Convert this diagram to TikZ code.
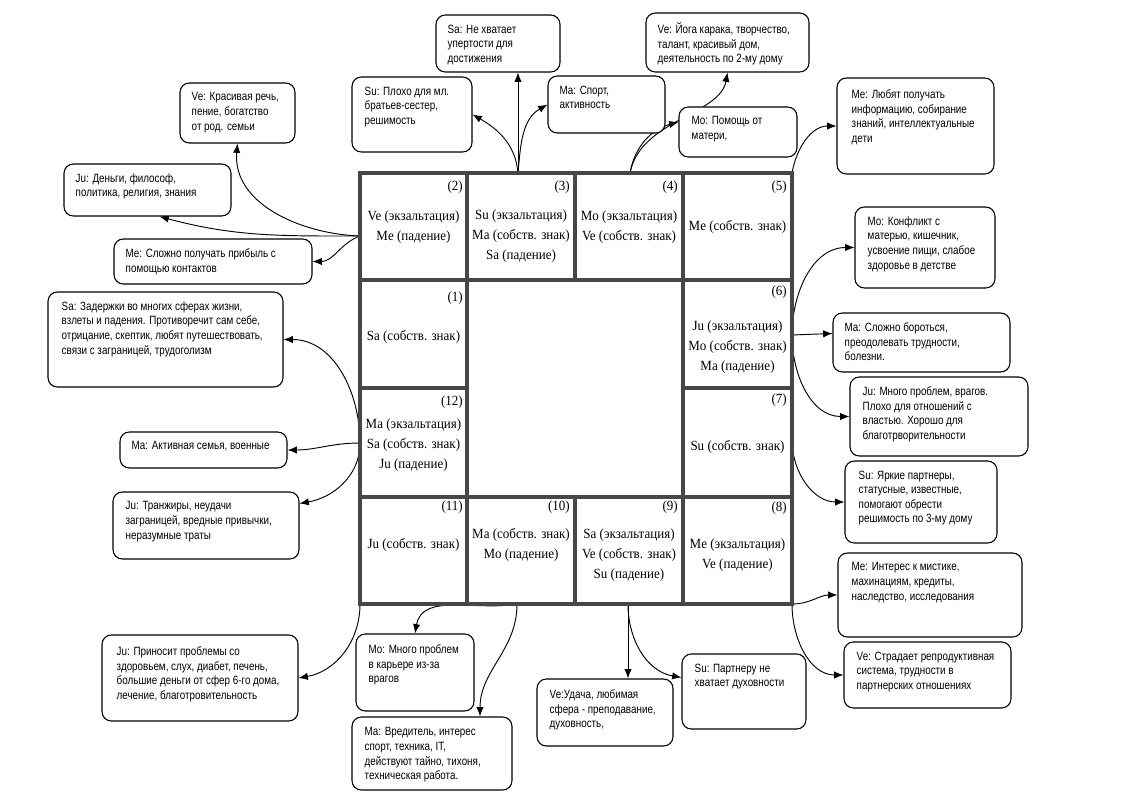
\documentclass[tikz,border=0pt]{standalone}
\usepackage{fontspec}
\usepackage{tikz}
\usetikzlibrary{arrows.meta, fit, positioning}
\newfontfamily\boxfont[FakeStretch=0.82]{Liberation Sans}
\newfontfamily\housefont[FakeStretch=0.93]{Liberation Serif}
\pgfdeclarelayer{bg}
\pgfsetlayers{bg,main}

\begin{document}
\begin{tikzpicture}[x=0.75pt, y=0.75pt, >={Latex[length=7pt,width=5.5pt]},
    chart/.style={line width=2.5pt, draw=black!72},
    house/.style={font=\housefont\fontsize{10.5}{15}\selectfont, align=center, inner sep=0pt},
    hnum/.style={font=\housefont\fontsize{10.5}{12}\selectfont, anchor=east, inner sep=0pt},
    infobox/.style={draw, line width=0.8pt, rounded corners=7pt, fill=white, inner sep=0pt},
    infotext/.style={font=\boxfont\fontsize{9}{10.9}\selectfont, align=left, anchor=north west, inner sep=0pt},
    link/.style={->, line width=0.7pt}]

    \useasboundingbox (0,0) rectangle (1127,-806);

    % Карта домов (сетка)
    \draw[chart] (360,-173) rectangle (792,-604);
    \draw[chart] (360,-280) -- (792,-280);
    \draw[chart] (360,-497) -- (792,-497);
    \draw[chart] (360,-388) -- (467,-388);
    \draw[chart] (683,-388) -- (792,-388);
    \draw[chart] (467,-173) -- (467,-604);
    \draw[chart] (683,-173) -- (683,-604);
    \draw[chart] (575,-173) -- (575,-280);
    \draw[chart] (575,-497) -- (575,-604);

    % Номера домов
    \node[hnum] (n2) at (463,-187) {(2)};
    \node[hnum] (n3) at (570,-187) {(3)};
    \node[hnum] (n4) at (678,-187) {(4)};
    \node[hnum] (n5) at (787,-187) {(5)};
    \node[hnum] (n1) at (463,-298) {(1)};
    \node[hnum] (n6) at (787,-292) {(6)};
    \node[hnum] (n12) at (463,-402) {(12)};
    \node[hnum] (n7) at (787,-400) {(7)};
    \node[hnum] (n11) at (463,-507) {(11)};
    \node[hnum] (n10) at (570,-507) {(10)};
    \node[hnum] (n9) at (678,-507) {(9)};
    \node[hnum] (n8) at (787,-508) {(8)};

    % Планеты в домах
    \node[house] (c2) at (413.5,-227) {Ve (экзальтация)\\Me (падение)};
    \node[house] (c3) at (521,-236) {Su (экзальтация)\\Ma (собств. знак)\\Sa (падение)};
    \node[house] (c4) at (629,-227) {Mo (экзальтация)\\Ve (собств. знак)};
    \node[house] (c5) at (737.5,-227) {Me (собств. знак)};
    \node[house] (c1) at (413.5,-337) {Sa (собств. знак)};
    \node[house] (c6) at (737.5,-347) {Ju (экзальтация)\\Mo (собств. знак)\\Ma (падение)};
    \node[house] (c7) at (737.5,-447) {Su (собств. знак)};
    \node[house] (c12) at (413.5,-445) {Ma (экзальтация)\\Sa (собств. знак)\\Ju (падение)};
    \node[house] (c11) at (413.5,-545) {Ju (собств. знак)};
    \node[house] (c10) at (521,-545) {Ma (собств. знак)\\Mo (падение)};
    \node[house] (c9) at (629,-555) {Sa (экзальтация)\\Ve (собств. знак)\\Su (падение)};
    \node[house] (c8) at (737.5,-555) {Me (экзальтация)\\Ve (падение)};

    % Точки выхода стрелок
    \coordinate (h2) at (360,-236);
    \coordinate (h3) at (518,-173);
    \coordinate (h4) at (630,-173);
    \coordinate (h5) at (792,-173);
    \coordinate (h6) at (792,-335);
    \coordinate (h7) at (792,-440);
    \coordinate (h8) at (792,-604);
    \coordinate (h9) at (628,-604);
    \coordinate (h10) at (517,-604);
    \coordinate (h11) at (360,-604);
    \coordinate (h12) at (360,-443);

    % Пояснения: 2-й дом
    \node[infobox, fit={(180,-83) (295,-143)}] (ve2) {};
    \node[infotext] (ve2t) at ([shift={(12,-10)}]ve2.north west) {Ve: Красивая речь,\\пение, богатство\\от род. семьи};
    \node[infobox, fit={(64,-164) (231,-216)}] (ju2) {};
    \node[infotext] (ju2t) at ([shift={(12,-10)}]ju2.north west) {Ju: Деньги, философ,\\политика, религия, знания};
    \node[infobox, fit={(114,-239) (312,-284)}] (me2) {};
    \node[infotext] (me2t) at ([shift={(12,-10)}]me2.north west) {Me: Сложно получать прибыль с\\помощью контактов};

    % 3-й дом
    \node[infobox, fit={(352,-77) (472,-152)}] (su3) {};
    \node[infotext] (su3t) at ([shift={(13,-10)}]su3.north west) {Su: Плохо для мл.\\братьев-сестер,\\решимость};
    \node[infobox, fit={(436,-15) (560,-72)}] (sa3) {};
    \node[infotext] (sa3t) at ([shift={(12,-10)}]sa3.north west) {Sa: Не хватает\\упертости для\\достижения};
    \node[infobox, fit={(548,-76) (665,-133)}] (ma3) {};
    \node[infotext] (ma3t) at ([shift={(12,-10)}]ma3.north west) {Ma: Спорт,\\активность};

    % 4-й и 5-й дом
    \node[infobox, fit={(646,-13) (809,-72)}] (ve4) {};
    \node[infotext] (ve4t) at ([shift={(12,-10)}]ve4.north west) {Ve: Йога карака, творчество,\\талант, красивый дом,\\деятельность по 2-му дому};
    \node[infobox, fit={(679,-107) (797,-157)}] (mo4) {};
    \node[infotext] (mo4t) at ([shift={(13,-10)}]mo4.north west) {Mo: Помощь от\\матери,};
    \node[infobox, fit={(837,-78) (994,-174)}] (me5) {};
    \node[infotext] (me5t) at ([shift={(15,-12)}]me5.north west) {Me: Любят получать\\информацию, собирание\\знаний, интеллектуальные\\дети};

    % 6-й и 7-й дом
    \node[infobox, fit={(855,-207) (995,-288)}] (mo6) {};
    \node[infotext] (mo6t) at ([shift={(13,-10)}]mo6.north west) {Mo: Конфликт с\\матерью, кишечник,\\усвоение пищи, слабое\\здоровье в детстве};
    \node[infobox, fit={(833,-313) (1010,-372)}] (ma6) {};
    \node[infotext] (ma6t) at ([shift={(12,-10)}]ma6.north west) {Ma: Сложно бороться,\\преодолевать трудности,\\болезни.};
    \node[infobox, fit={(850,-377) (1028,-456)}] (ju6) {};
    \node[infotext] (ju6t) at ([shift={(13,-10)}]ju6.north west) {Ju: Много проблем, врагов.\\Плохо для отношений с\\властью. Хорошо для\\благотрворительности};
    \node[infobox, fit={(845,-461) (997,-543)}] (su7) {};
    \node[infotext] (su7t) at ([shift={(14,-10)}]su7.north west) {Su: Яркие партнеры,\\статусные, известные,\\помогают обрести\\решимость по 3-му дому};

    % 8-й и 9-й дом
    \node[infobox, fit={(838,-553) (1022,-637)}] (me8) {};
    \node[infotext] (me8t) at ([shift={(14,-10)}]me8.north west) {Me: Интерес к мистике,\\махинациям, кредиты,\\наследство, исследования};
    \node[infobox, fit={(844,-642) (1011,-708)}] (ve8) {};
    \node[infotext] (ve8t) at ([shift={(13,-10)}]ve8.north west) {Ve: Страдает репродуктивная\\система, трудности в\\партнерских отношениях};
    \node[infobox, fit={(537,-679) (673,-746)}] (ve9) {};
    \node[infotext] (ve9t) at ([shift={(13,-11)}]ve9.north west) {Ve:Удача, любимая\\сфера - преподавание,\\духовность,};
    \node[infobox, fit={(682,-654) (806,-729)}] (su9) {};
    \node[infotext] (su9t) at ([shift={(13,-10)}]su9.north west) {Su: Партнеру не\\хватает духовности};

    % 10-й и 11-й дом
    \node[infobox, fit={(356,-634) (474,-711)}] (mo10) {};
    \node[infotext] (mo10t) at ([shift={(13,-11)}]mo10.north west) {Mo: Много проблем\\в карьере из-за\\врагов};
    \node[infobox, fit={(352,-717) (512,-790)}] (ma10) {};
    \node[infotext] (ma10t) at ([shift={(13,-11)}]ma10.north west) {Ma: Вредитель, интерес\\спорт, техника, IT,\\действуют тайно, тихоня,\\техническая работа.};
    \node[infobox, fit={(102,-635) (298,-721)}] (ju11) {};
    \node[infotext] (ju11t) at ([shift={(15,-12)}]ju11.north west) {Ju: Приносит проблемы со\\здоровьем, слух, диабет, печень,\\большие деньги от сфер 6-го дома,\\лечение, благотровительность};

    % 12-й дом
    \node[infobox, fit={(48,-292) (283,-387)}] (sa12) {};
    \node[infotext] (sa12t) at ([shift={(14,-10)}]sa12.north west) {Sa: Задержки во многих сферах жизни,\\взлеты и падения. Противоречит сам себе,\\отрицание, скептик, любят путешествовать,\\связи с заграницей, трудоголизм};
    \node[infobox, fit={(120,-432) (287,-468)}] (ma12) {};
    \node[infotext] (ma12t) at ([shift={(12,-10)}]ma12.north west) {Ma: Активная семья, военные};
    \node[infobox, fit={(113,-492) (299,-559)}] (ju12) {};
    \node[infotext] (ju12t) at ([shift={(13,-10)}]ju12.north west) {Ju: Транжиры, неудачи\\заграницей, вредные привычки,\\неразумные траты};

    % Стрелки от домов к пояснениям
    \begin{pgfonlayer}{bg}
    \draw[link] (h2) to[out=178,in=-95] (ve2.south);
    \draw[link] (h2) to[out=180,in=-15] ([shift={(12,0)}]ju2.south);
    \draw[link] (h2) to[out=200,in=0] (me2.east);
    \draw[link] (h3) to[out=95,in=-30] (su3.east);
    \draw[link] (h3) -- (h3 |- sa3.south);
    \draw[link] (h3) to[out=85,in=-150] (ma3.west);
    \draw[link] (h4) .. controls (640,-120) and (720,-115) .. (ve4.south);
    \draw[link] (h4) to[out=80,in=195] ([shift={(0,10)}]mo4.west);
    \draw[link] (h5) to[out=80,in=180] (me5.west);
    \draw[link] (h6) to[out=90,in=180] (mo6.west);
    \draw[link] (h6) -- ([shift={(0,9)}]ma6.west);
    \draw[link] (h6) to[out=-90,in=180] (ju6.west);
    \draw[link] (h7) to[out=-90,in=180] (su7.west);
    \draw[link] (h8) to[out=0,in=180] (me8.west);
    \draw[link] (h8) to[out=-90,in=180] (ve8.west);
    \draw[link] (h9) -- (h9 |- ve9.north);
    \draw[link] (h9) to[out=-90,in=170] ([shift={(0,14)}]su9.west);
    \draw[link] (h10) to[out=190,in=80] (mo10.north);
    \draw[link] (h10) to[out=-90,in=90] ([shift={(48,0)}]ma10.north);
    \draw[link] (h11) to[out=-90,in=10] (ju11.east);
    \draw[link] (h12) to[out=90,in=0] (sa12.east);
    \draw[link] (h12) to[out=180,in=0] (ma12.east);
    \draw[link] (h12) to[out=-90,in=10] ([shift={(0,22)}]ju12.east);
    \end{pgfonlayer}

\end{tikzpicture}
\end{document}
